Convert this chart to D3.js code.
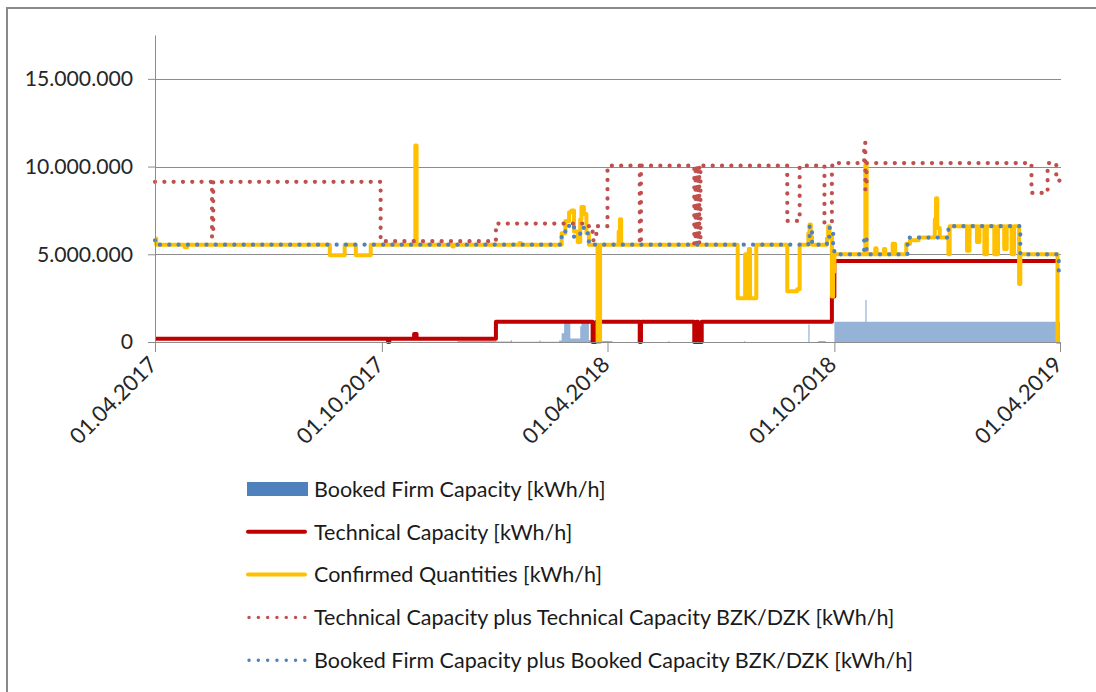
<!DOCTYPE html>
<html>
<head>
<meta charset="utf-8">
<script src="https://cdn.jsdelivr.net/npm/d3@7"></script>
<style>
  body { margin: 0; background: #fff; }
  svg { font-family: Lato, 'Open Sans', sans-serif; }
</style>
</head>
<body>
<svg id="capacity-chart"></svg>
<script>
const WIDTH = 1096;
const HEIGHT = 692;
const PLOT = {left: 155, right: 1060, top: 35, bottom: 342};

const xTicks = ['2017-04-01', '2017-10-01', '2018-04-01', '2018-10-01', '2019-04-01'];
const yTicks = [0, 5000000, 10000000, 15000000];

// step series: [date the value starts, value]
const bookedFirm = [
  ['2017-04-01', 0], ['2017-12-01', 60000], ['2018-01-01', 30000],
  ['2018-01-13', 100000], ['2018-01-14', 20000], ['2018-02-05', 80000], ['2018-02-06', 20000],
  ['2018-02-21', 80000], ['2018-02-23', 500000], ['2018-02-25', 1100000], ['2018-02-28', 1150000],
  ['2018-03-02', 200000], ['2018-03-10', 900000], ['2018-03-11', 1150000], ['2018-03-17', 100000],
  ['2018-03-25', 60000], ['2018-04-05', 0], ['2018-05-20', 40000], ['2018-05-21', 0],
  ['2018-07-20', 40000], ['2018-07-21', 0], ['2018-09-10', 1000000], ['2018-09-11', 0],
  ['2018-09-18', 60000], ['2018-09-24', 0], ['2018-10-01', 1150000],
  ['2018-10-26', 2400000], ['2018-10-27', 1150000], ['2019-04-01', 1150000]
];

const techCap = [
  ['2017-04-01', 180000], ['2017-10-06', 0], ['2017-10-07', 180000],
  ['2017-10-27', 450000], ['2017-10-29', 180000], ['2018-01-01', 1150000],
  ['2018-03-20', 0], ['2018-03-23', 1150000], ['2018-04-27', 0], ['2018-04-28', 1150000],
  ['2018-06-10', 0], ['2018-06-12', 1150000], ['2018-06-13', 0], ['2018-06-16', 1150000],
  ['2018-09-29', 2600000], ['2018-10-01', 4620000], ['2019-04-01', 4620000]
];

const confirmed = [
  ['2017-04-01', 5900000], ['2017-04-02', 5550000], ['2017-04-25', 5400000], ['2017-04-27', 5550000],
  ['2017-08-20', 4950000], ['2017-09-01', 5550000], ['2017-09-10', 4950000], ['2017-09-22', 5550000],
  ['2017-10-28', 11200000], ['2017-10-29', 5550000], ['2017-11-27', 5450000], ['2017-11-28', 5550000],
  ['2018-01-20', 5650000], ['2018-01-21', 5550000],
  ['2018-02-23', 6200000], ['2018-02-26', 6900000], ['2018-03-01', 7400000], ['2018-03-03', 7500000],
  ['2018-03-05', 6300000], ['2018-03-08', 5700000], ['2018-03-10', 7000000], ['2018-03-11', 7700000],
  ['2018-03-13', 7300000], ['2018-03-15', 6200000], ['2018-03-17', 5550000],
  ['2018-03-24', 0], ['2018-03-26', 5550000], ['2018-04-10', 6300000], ['2018-04-11', 7000000],
  ['2018-04-12', 5550000], ['2018-07-15', 2500000], ['2018-07-21', 5000000], ['2018-07-22', 2500000],
  ['2018-07-24', 5300000], ['2018-07-25', 2500000], ['2018-07-30', 5550000],
  ['2018-08-24', 2900000], ['2018-09-01', 3000000], ['2018-09-03', 5550000],
  ['2018-09-10', 6200000], ['2018-09-11', 6700000], ['2018-09-12', 6000000], ['2018-09-13', 5550000],
  ['2018-09-25', 5900000], ['2018-09-26', 6600000], ['2018-09-27', 6100000], ['2018-09-29', 2600000],
  ['2018-09-30', 4000000], ['2018-10-01', 5000000], ['2018-10-26', 10100000], ['2018-10-27', 5000000],
  ['2018-11-03', 5350000], ['2018-11-04', 5000000], ['2018-11-10', 5300000], ['2018-11-11', 5000000],
  ['2018-11-17', 5600000], ['2018-11-19', 5000000], ['2018-11-28', 5600000], ['2018-12-01', 5800000],
  ['2018-12-08', 5950000], ['2018-12-21', 7000000], ['2018-12-22', 8200000], ['2018-12-23', 6500000],
  ['2018-12-25', 5950000], ['2019-01-01', 5000000], ['2019-01-02', 6600000],
  ['2019-01-16', 5200000], ['2019-01-18', 6600000], ['2019-01-24', 5700000], ['2019-01-26', 6600000],
  ['2019-01-30', 5000000], ['2019-02-01', 6600000], ['2019-02-07', 5000000], ['2019-02-10', 6600000],
  ['2019-02-15', 5300000], ['2019-02-17', 6600000], ['2019-02-21', 5000000], ['2019-02-23', 6600000],
  ['2019-02-27', 3300000], ['2019-02-28', 5000000], ['2019-03-30', 0], ['2019-04-01', 0]
];

const techCapPlus = [
  ['2017-04-01', 9130000], ['2017-05-17', 6000000], ['2017-05-18', 9130000],
  ['2017-09-30', 5750000], ['2018-01-01', 6750000], ['2018-03-17', 6300000],
  ['2018-03-20', 5800000], ['2018-03-23', 6600000], ['2018-04-01', 10050000],
  ['2018-04-27', 5600000], ['2018-04-28', 10050000], ['2018-06-10', 5600000], ['2018-06-11', 10050000],
  ['2018-06-12', 5600000], ['2018-06-13', 10050000], ['2018-06-14', 5600000], ['2018-06-15', 10050000],
  ['2018-08-24', 6900000], ['2018-09-03', 10050000], ['2018-09-23', 6800000], ['2018-09-29', 10050000],
  ['2018-10-01', 10200000], ['2018-10-25', 11350000], ['2018-10-26', 8700000], ['2018-10-27', 10200000],
  ['2019-03-09', 8500000], ['2019-03-22', 10200000], ['2019-03-29', 9200000], ['2019-04-01', 9200000]
];

const bookedPlus = [
  ['2017-04-01', 5800000], ['2017-04-02', 5550000],
  ['2018-02-23', 6000000], ['2018-02-26', 6500000], ['2018-03-01', 6700000], ['2018-03-05', 6000000],
  ['2018-03-10', 6500000], ['2018-03-13', 6200000], ['2018-03-17', 5550000],
  ['2018-09-10', 6000000], ['2018-09-11', 6600000], ['2018-09-13', 5550000],
  ['2018-09-25', 6000000], ['2018-09-27', 6500000], ['2018-09-30', 5550000],
  ['2018-10-01', 5000000], ['2018-10-25', 6000000], ['2018-10-27', 5000000],
  ['2018-11-29', 5950000], ['2019-01-01', 6600000], ['2019-02-28', 5000000],
  ['2019-03-31', 4000000], ['2019-04-01', 4000000]
];

const legendLabels = [
  'Booked Firm Capacity [kWh/h]',
  'Technical Capacity [kWh/h]',
  'Confirmed Quantities [kWh/h]',
  'Technical Capacity plus Technical Capacity BZK/DZK [kWh/h]',
  'Booked Firm Capacity plus Booked Capacity BZK/DZK [kWh/h]'
];

const parse = d3.utcParse('%Y-%m-%d');
const toPoints = (rows) => rows.map(([d, v]) => ({date: parse(d), value: v}));

const x = d3.scaleUtc()
  .domain([parse(xTicks[0]), parse(xTicks[xTicks.length - 1])])
  .range([PLOT.left, PLOT.right]);

const y = d3.scaleLinear()
  .domain([0, 17500000])
  .range([PLOT.bottom, PLOT.top]);

const deFormat = d3.formatLocale({decimal: ',', thousands: '.', grouping: [3], currency: ['', '']}).format(',.0f');

const svg = d3.select('#capacity-chart')
  .attr('width', WIDTH)
  .attr('height', HEIGHT);

// outer chart frame (right and bottom edges run off the picture)
svg.append('rect')
  .attr('x', 7).attr('y', 8)
  .attr('width', 1110).attr('height', 700)
  .attr('fill', 'none')
  .attr('stroke', '#8a8a8a')
  .attr('stroke-width', 2);

// gridlines
svg.append('g')
  .selectAll('line')
  .data(yTicks.filter((t) => t > 0))
  .enter()
  .append('line')
  .attr('x1', PLOT.left).attr('x2', PLOT.right + 1)
  .attr('y1', (d) => Math.round(y(d)) + 0.5)
  .attr('y2', (d) => Math.round(y(d)) + 0.5)
  .attr('stroke', '#8c8c8c');

const line = d3.line()
  .x((d) => x(d.date))
  .y((d) => y(d.value))
  .curve(d3.curveStepAfter);

const area = d3.area()
  .x((d) => x(d.date))
  .y0(y(0))
  .y1((d) => y(d.value))
  .curve(d3.curveStepAfter);

svg.append('path')
  .datum(toPoints(bookedFirm))
  .attr('d', area)
  .attr('fill', '#95b3d7');

const drawLine = (rows, color, width, dashed) => {
  const path = svg.append('path')
    .datum(toPoints(rows))
    .attr('d', line)
    .attr('fill', 'none')
    .attr('stroke', color)
    .attr('stroke-width', width)
    .attr('stroke-linejoin', 'round');
  if (dashed) {
    path.attr('stroke-dasharray', '0.1 9.2').attr('stroke-linecap', 'round');
  }
};

drawLine(techCap, '#c00000', 4, false);
drawLine(confirmed, '#ffc000', 4, false);
drawLine(techCapPlus, '#c0504d', 4.2, true);
drawLine(bookedPlus, '#4f81bd', 4.2, true);

// axes
const xAxis = d3.axisBottom(x)
  .tickValues(xTicks.map(parse))
  .tickSizeInner(10)
  .tickSizeOuter(0)
  .tickFormat(d3.utcFormat('%d.%m.%Y'));

const yAxis = d3.axisLeft(y)
  .tickValues(yTicks)
  .tickSizeInner(7)
  .tickSizeOuter(0)
  .tickPadding(15)
  .tickFormat(deFormat);

const yG = svg.append('g')
  .attr('transform', `translate(${PLOT.left},0)`)
  .call(yAxis);

yG.select('.domain').attr('stroke', '#8c8c8c');
yG.selectAll('.tick line').attr('stroke', '#8c8c8c');
yG.selectAll('.tick text')
  .attr('font-size', 21.2)
  .attr('fill', '#262626')
  .style('font-family', 'Lato, sans-serif');

const xG = svg.append('g')
  .attr('transform', `translate(0,${PLOT.bottom})`)
  .call(xAxis);

xG.select('.domain').attr('stroke', '#8c8c8c');
xG.selectAll('.tick line').attr('stroke', '#8c8c8c');
xG.selectAll('.tick text')
  .attr('font-size', 22)
  .attr('fill', '#262626')
  .style('font-family', 'Lato, sans-serif')
  .attr('text-anchor', 'end')
  .attr('dy', null)
  .attr('y', 0)
  .attr('transform', 'translate(3,24) rotate(-45)');

// legend
const legend = svg.append('g')
  .selectAll('g')
  .data(legendLabels)
  .enter()
  .append('g')
  .attr('transform', (d, i) => `translate(247,${489 + i * 42.8})`);

legend.each(function(d, i) {
  const g = d3.select(this);
  if (i === 0) {
    g.append('rect').attr('x', 0).attr('y', -7).attr('width', 61).attr('height', 14).attr('fill', '#4f81bd');
  } else {
    const colors = [null, '#c00000', '#ffc000', '#c0504d', '#4f81bd'];
    const seg = g.append('line')
      .attr('x1', 1).attr('x2', 58)
      .attr('stroke', colors[i])
      .attr('stroke-linecap', 'round');
    if (i < 3) {
      seg.attr('stroke-width', 4);
    } else {
      seg.attr('x1', 2).attr('stroke-width', 3.4).attr('stroke-dasharray', '0.1 9.2');
    }
  }
});

legend.append('text')
  .attr('x', 67)
  .attr('dy', '0.36em')
  .attr('font-size', 21.5)
  .attr('fill', '#1a1a1a')
  .text((d) => d);
</script>
</body>
</html>
